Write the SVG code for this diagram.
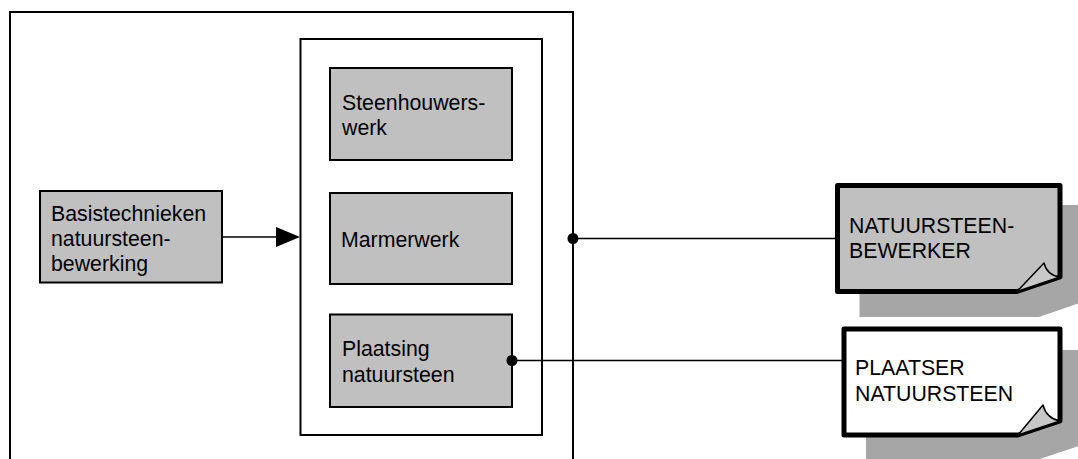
<svg xmlns="http://www.w3.org/2000/svg" width="1078" height="459" viewBox="0 0 1078 459">
<defs>
<style>
.frame{fill:#ffffff;stroke:#000;stroke-width:2}
.box{fill:#c0c0c0;stroke:#000;stroke-width:2}
.t{font-family:"Liberation Sans",Arial,sans-serif;font-size:21.3px;fill:#000}
.conn{stroke:#000;stroke-width:1.6;fill:none}
.shadow{fill:#a6a6a6;stroke:none}
.doc{stroke:#000;stroke-width:5;stroke-linejoin:round}
.fold{fill:#c8c8c8;stroke:#000;stroke-width:1.5;stroke-linejoin:round}
</style>
</defs>
<rect width="1078" height="459" fill="#ffffff"/>
<g id="outer-frame">
<rect class="frame" x="10" y="12" width="563" height="470"/>
</g>
<g id="inner-frame">
<rect class="frame" x="300.5" y="39" width="241.5" height="396"/>
</g>
<g id="node-basistechnieken">
<rect class="box" x="40" y="191" width="182" height="91.5"/>
<text class="t" x="51" y="221">Basistechnieken</text>
<text class="t" x="51" y="246">natuursteen-</text>
<text class="t" x="51" y="271">bewerking</text>
</g>
<g id="node-steenhouwerswerk">
<rect class="box" x="330" y="68" width="182" height="92"/>
<text class="t" x="342" y="110">Steenhouwers-</text>
<text class="t" x="342" y="135">werk</text>
</g>
<g id="node-marmerwerk">
<rect class="box" x="330" y="193" width="182" height="91"/>
<text class="t" x="341" y="247">Marmerwerk</text>
</g>
<g id="node-plaatsing">
<rect class="box" x="330" y="314.5" width="182" height="92.5"/>
<text class="t" x="342" y="356">Plaatsing</text>
<text class="t" x="342" y="381.5">natuursteen</text>
</g>
<g id="node-natuursteenbewerker">
<path class="shadow" d="M859.5,205 H1082 V302 L1039,317 H859.5 Z"/>
<path class="doc" fill="#c0c0c0" d="M837.5,185.5 H1060 V277 L1017,291.5 H837.5 Z"/>
<path class="fold" d="M1017,291.5 L1044,263 C1046,271 1051,276 1060,277 Z"/>
<text class="t" x="849" y="233">NATUURSTEEN-</text>
<text class="t" x="849" y="258">BEWERKER</text>
</g>
<g id="node-plaatser">
<path class="shadow" d="M866,350 H1082 V445 L1040,459 H866 Z"/>
<path class="doc" fill="#ffffff" d="M844,329 H1060 V421 L1018,435 H844 Z"/>
<path class="fold" d="M1018,435 L1043,405 C1045,413 1050,419 1060,421 Z"/>
<text class="t" x="855" y="375">PLAATSER</text>
<text class="t" x="855" y="400.5">NATUURSTEEN</text>
</g>
<g id="connectors">
<line class="conn" x1="222" y1="237" x2="278" y2="237"/>
<polygon points="276,227 300,237 276,247" fill="#000"/>
<line class="conn" x1="573" y1="238.5" x2="836" y2="238.5"/>
<circle cx="573" cy="238.5" r="5.5" fill="#000"/>
<line class="conn" x1="512" y1="360.5" x2="842" y2="360.5"/>
<circle cx="512" cy="360.5" r="5.5" fill="#000"/>
</g>
</svg>
